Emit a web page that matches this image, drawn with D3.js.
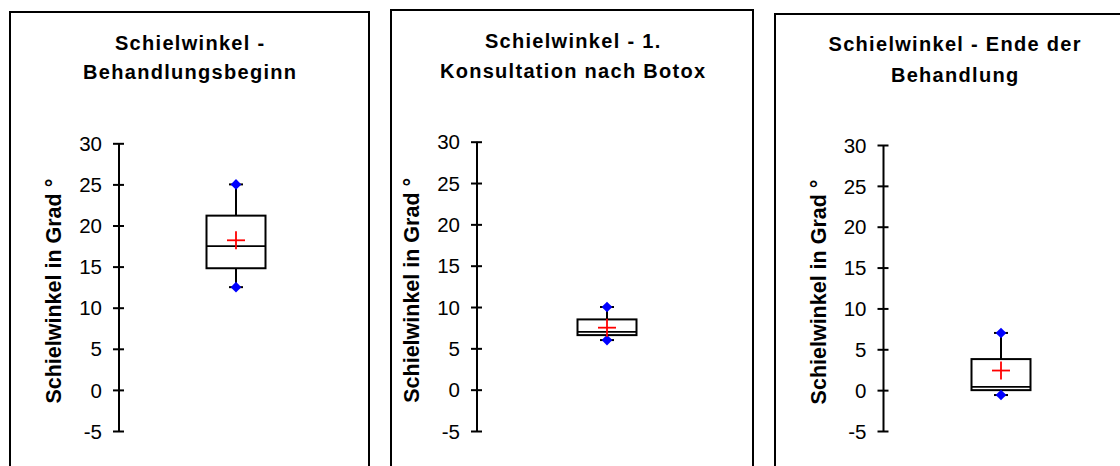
<!DOCTYPE html>
<html>
<head>
<meta charset="utf-8">
<script src="https://cdn.jsdelivr.net/npm/d3@7"></script>
<style>
  html, body { margin: 0; padding: 0; background: #fff; }
  svg { display: block; }
  text { font-family: "Liberation Sans", Arial, sans-serif; fill: #000; }
</style>
</head>
<body>
<svg id="chart" width="1120" height="466"></svg>
<script>
// ---- Data ----
const titles = [
  ["Schielwinkel -", "Behandlungsbeginn"],
  ["Schielwinkel - 1.", "Konsultation nach Botox"],
  ["Schielwinkel - Ende der", "Behandlung"]
];
const yTitle = "Schielwinkel in Grad °";
const minValues    = [12.5, 6.0, -0.6];
const q1Values     = [14.8, 6.6, 0.0];
const medianValues = [17.5, 7.0, 0.4];
const q3Values     = [21.2, 8.5, 3.8];
const maxValues    = [25.0, 10.0, 7.0];
const meanValues   = [18.2, 7.5, 2.4];
const yTicks = [-5, 0, 5, 10, 15, 20, 25, 30];
const yDomain = [-5, 30];

// ---- Layout (positions only) ----
const panels = [
  { left: 10,  top: 12, right: 369,  axisX: 119,   yTop: 143.3, yBot: 431, boxX: 236,  titleY: [50, 79], cx: 189.5 },
  { left: 391, top: 10, right: 753,  axisX: 477,   yTop: 141.7, yBot: 431, boxX: 607,  titleY: [48, 78], cx: 572.5 },
  { left: 775, top: 14, right: 1134, axisX: 883.5, yTop: 145,   yBot: 431, boxX: 1001, titleY: [51, 82], cx: 954.5 }
];
const boxHalfW = 29.5;

const svg = d3.select("#chart");

panels.forEach((p, i) => {
  const g = svg.append("g");
  // panel frame (open at bottom, extends past the canvas)
  g.append("path")
    .attr("d", `M${p.left},480 L${p.left},${p.top} L${p.right},${p.top} L${p.right},480`)
    .attr("fill", "none").attr("stroke", "#000").attr("stroke-width", 2);

  // title
  titles[i].forEach((line, k) => {
    g.append("text")
      .attr("x", p.cx + 0.7).attr("y", p.titleY[k])
      .attr("text-anchor", "middle")
      .attr("font-size", "20px").attr("font-weight", "bold")
      .attr("letter-spacing", "1.3px")
      .text(line);
  });

  const y = d3.scaleLinear().domain(yDomain).range([p.yBot, p.yTop]);

  // axis
  const axis = d3.axisLeft(y).tickValues(yTicks).tickSize(0).tickPadding(0).tickFormat(d => String(d));
  const ag = g.append("g").attr("transform", `translate(${p.axisX},0)`).call(axis);
  ag.select(".domain").attr("stroke", "#000").attr("stroke-width", 2).attr("d", `M0,${y(30)}V${y(-5)}`);
  ag.selectAll(".tick text")
    .attr("x", -17).attr("dy", "0.35em")
    .attr("font-size", "20.5px").attr("font-family", "'Liberation Sans', Arial, sans-serif").attr("fill", "#000");
  ag.selectAll(".tick").append("line")
    .attr("x1", -6).attr("x2", 5).attr("stroke", "#000").attr("stroke-width", 2);

  // y-axis title
  g.append("text")
    .attr("transform", `translate(${p.axisX - 58},${(p.yTop + p.yBot) / 2 + 4}) rotate(-90)`)
    .attr("text-anchor", "middle")
    .attr("font-size", "21.5px").attr("font-weight", "bold")
    .text(yTitle);

  // box plot
  const bx = p.boxX;
  // whiskers
  g.append("line").attr("x1", bx).attr("x2", bx).attr("y1", y(maxValues[i])).attr("y2", y(q3Values[i]))
    .attr("stroke", "#000").attr("stroke-width", 2);
  g.append("line").attr("x1", bx).attr("x2", bx).attr("y1", y(q1Values[i])).attr("y2", y(minValues[i]))
    .attr("stroke", "#000").attr("stroke-width", 2);
  // whisker caps
  [maxValues[i], minValues[i]].forEach(v => {
    g.append("line").attr("x1", bx - 7).attr("x2", bx + 7).attr("y1", y(v)).attr("y2", y(v))
      .attr("stroke", "#000").attr("stroke-width", 2);
  });
  // box
  g.append("rect")
    .attr("x", bx - boxHalfW).attr("width", boxHalfW * 2)
    .attr("y", y(q3Values[i])).attr("height", y(q1Values[i]) - y(q3Values[i]))
    .attr("fill", "#fff").attr("stroke", "#000").attr("stroke-width", 2);
  // median
  g.append("line").attr("x1", bx - boxHalfW).attr("x2", bx + boxHalfW)
    .attr("y1", y(medianValues[i])).attr("y2", y(medianValues[i]))
    .attr("stroke", "#000").attr("stroke-width", 1.8);
  // min/max diamonds
  [maxValues[i], minValues[i]].forEach(v => {
    g.append("path")
      .attr("d", d3.symbol().type(d3.symbolDiamond2).size(72)())
      .attr("transform", `translate(${bx},${y(v)})`)
      .attr("fill", "#0000ff");
  });
  // mean cross
  const my = y(meanValues[i]);
  g.append("line").attr("x1", bx - 9).attr("x2", bx + 9).attr("y1", my).attr("y2", my)
    .attr("stroke", "#ff0000").attr("stroke-width", 1.8);
  g.append("line").attr("x1", bx).attr("x2", bx).attr("y1", my - 9).attr("y2", my + 9)
    .attr("stroke", "#ff0000").attr("stroke-width", 1.8);
});
</script>
</body>
</html>
